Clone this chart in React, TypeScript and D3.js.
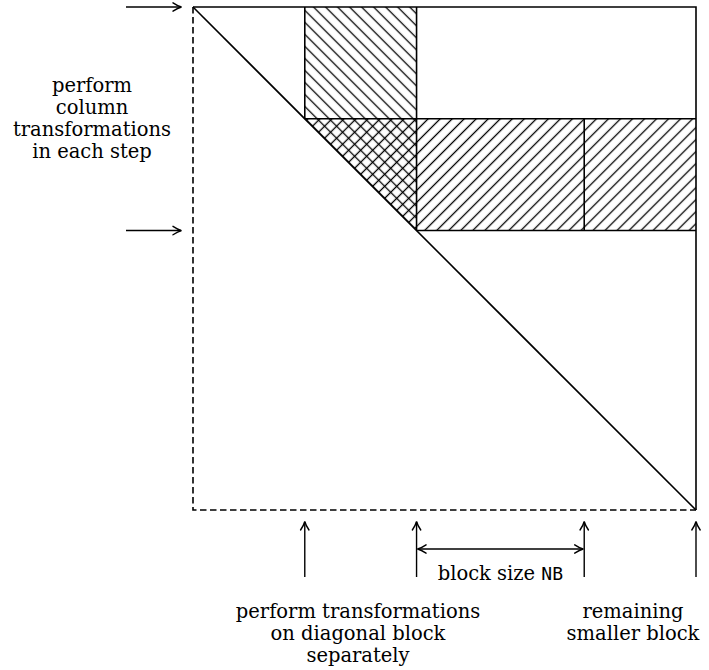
import React from "react";
import * as d3 from "d3";

// Matrix coordinates (in units of the square's side = 9)
const N = 9;
const columnBlock = [2, 4]; // column block being transformed
const rowBand = [2, 4]; // row band (same step)
const remainingEdge = 7; // start of remaining smaller block
const leftArrowRows = [0, 4];
const bottomArrowCols = [2, 4, 7, 9];
const blockSizeSpan = [4, 7];

const leftLabel = ["perform", "column", "transformations", "in each step"];
const bottomLeftLabel = ["perform transformations", "on diagonal block", "separately"];
const bottomRightLabel = ["remaining", "smaller block"];
const blockSizeText = "block size ";
const blockSizeCode = "NB";

const W = 709;
const H = 670;
const serif = "'DejaVu Serif', 'Liberation Serif', serif";

const x = d3.scaleLinear().domain([0, N]).range([193, 696]);
const y = d3.scaleLinear().domain([0, N]).range([7, 510]);

function Head({ tx, ty, angle }: { tx: number; ty: number; angle: number }) {
  return (
    <path
      d="M -8.5,-4.2 Q -3.5,-0.9 0,0 Q -3.5,0.9 -8.5,4.2"
      transform={`translate(${tx},${ty}) rotate(${angle})`}
      fill="none"
      stroke="#000"
      strokeWidth={1.4}
      strokeLinecap="round"
    />
  );
}

export default function App() {
  const line = d3.line<[number, number]>();
  const c0 = columnBlock[0], c1 = columnBlock[1];
  const r0 = rowBand[0], r1 = rowBand[1];

  // column block region: from top down to diagonal
  const colRegion: [number, number][] = [
    [x(c0), y(0)], [x(c1), y(0)], [x(c1), y(c1)], [x(c0), y(c0)],
  ];
  // row band region: from diagonal to the right edge
  const rowRegion: [number, number][] = [
    [x(r0), y(r0)], [x(N), y(r0)], [x(N), y(r1)], [x(r1), y(r1)],
  ];

  const hs = 8.5;
  const sw = 1.6;

  return (
    <svg width={W} height={H} style={{ display: "block", position: "absolute", left: 0, top: 0 }}>
      <defs>
        <pattern id="hatchBack" patternUnits="userSpaceOnUse" width={hs} height={hs} patternTransform="rotate(-45)">
          <line x1={hs / 2} y1={-1} x2={hs / 2} y2={hs + 1} stroke="#000" strokeWidth={1.3} />
        </pattern>
        <pattern id="hatchFwd" patternUnits="userSpaceOnUse" width={hs} height={hs} patternTransform="rotate(45)">
          <line x1={hs / 2} y1={-1} x2={hs / 2} y2={hs + 1} stroke="#000" strokeWidth={1.3} />
        </pattern>
      </defs>
      <rect width={W} height={H} fill="#fff" />

      {/* hatched regions */}
      <path d={line(colRegion) + "Z"} fill="url(#hatchBack)" />
      <path d={line(rowRegion) + "Z"} fill="url(#hatchFwd)" />

      {/* square: top & right solid, left & bottom dashed */}
      <g stroke="#000" strokeWidth={sw} fill="none">
        <path d={line([[x(0), y(0)], [x(N), y(0)], [x(N), y(N)]])!} />
        <path d={line([[x(0), y(0)], [x(0), y(N)], [x(N), y(N)]])!} strokeDasharray="6.5,3.5" />
        {/* diagonal */}
        <path d={line([[x(0), y(0)], [x(N), y(N)]])!} />
        {/* column block outline */}
        <path d={line([[x(c0), y(0)], [x(c0), y(c0)]])!} />
        <path d={line([[x(c1), y(0)], [x(c1), y(r1)]])!} />
        <path d={line([[x(c0), y(r0)], [x(N), y(r0)]])!} />
        <path d={line([[x(r1), y(r1)], [x(N), y(r1)]])!} />
        <path d={line([[x(remainingEdge), y(r0)], [x(remainingEdge), y(r1)]])!} />
      </g>

      {/* left arrows */}
      {leftArrowRows.map((r) => (
        <g key={"la" + r}>
          <line x1={126} y1={y(r)} x2={181} y2={y(r)} stroke="#000" strokeWidth={1.4} />
          <Head tx={181.5} ty={y(r)} angle={0} />
        </g>
      ))}

      {/* bottom arrows */}
      {bottomArrowCols.map((c) => (
        <g key={"ba" + c}>
          <line x1={x(c)} y1={577} x2={x(c)} y2={522} stroke="#000" strokeWidth={1.4} />
          <Head tx={x(c)} ty={521.5} angle={-90} />
        </g>
      ))}

      {/* double arrow for block size */}
      <line x1={x(blockSizeSpan[0]) + 1} y1={549} x2={x(blockSizeSpan[1]) - 1} y2={549} stroke="#000" strokeWidth={1.4} />
      <Head tx={x(blockSizeSpan[0]) + 1} ty={549} angle={180} />
      <Head tx={x(blockSizeSpan[1]) - 1} ty={549} angle={0} />

      {/* labels */}
      <g fontFamily={serif} fontSize={19.5} fill="#000" textAnchor="middle">
        {leftLabel.map((t, i) => (
          <text key={"l" + i} x={92} y={92 + i * 22}>{t}</text>
        ))}
        {bottomLeftLabel.map((t, i) => (
          <text key={"bl" + i} x={358} y={618 + i * 22}>{t}</text>
        ))}
        {bottomRightLabel.map((t, i) => (
          <text key={"br" + i} x={633} y={618 + i * 22}>{t}</text>
        ))}
        <text x={(x(blockSizeSpan[0]) + x(blockSizeSpan[1])) / 2} y={580}>
          {blockSizeText}
          <tspan fontFamily="'DejaVu Sans Mono', 'Liberation Mono', monospace" fontSize={18}>{blockSizeCode}</tspan>
        </text>
      </g>
    </svg>
  );
}
